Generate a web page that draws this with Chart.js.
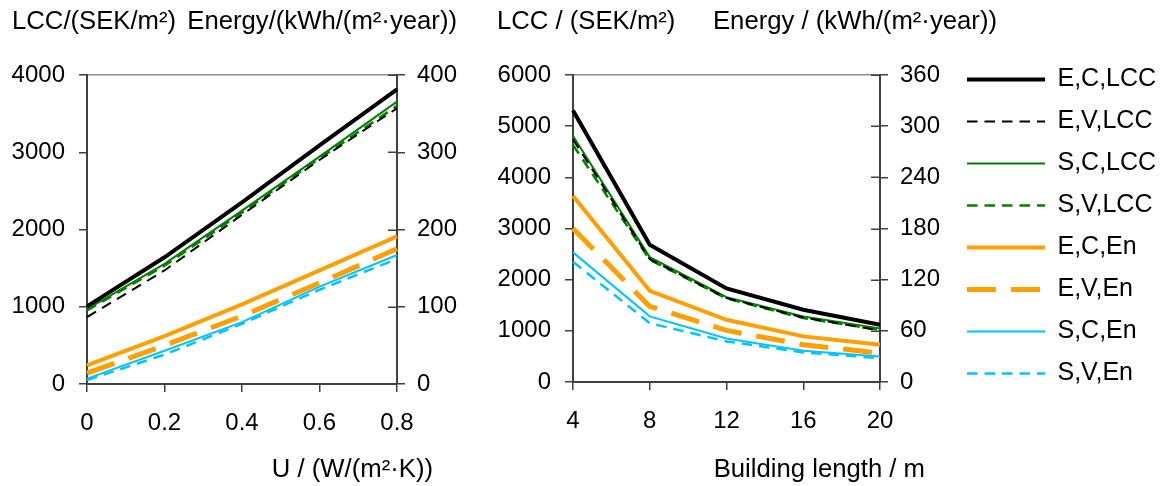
<!DOCTYPE html>
<html><head><meta charset="utf-8">
<script src="https://cdn.jsdelivr.net/npm/chart.js@4.4.1/dist/chart.umd.min.js"></script>
<style>
html,body{margin:0;padding:0;background:#fff;}
#wrap{position:relative;width:1162px;height:486px;overflow:hidden;font-family:"Liberation Sans",Arial,sans-serif;color:#000;}
canvas{position:absolute;top:0;}
.t{position:absolute;font-size:25.7px;line-height:30px;white-space:nowrap;}
</style></head>
<body><div id="wrap">
<canvas id="cU" width="480" height="486" style="left:0px"></canvas>
<canvas id="cL" width="480" height="486" style="left:480px"></canvas>
<canvas id="cLeg" width="212" height="486" style="left:950px"></canvas>
<div class="t" style="left:12px;top:5px">LCC/(SEK/m²)</div>
<div class="t" style="right:705px;top:5px">Energy/(kWh/(m²·year))</div>
<div class="t" style="left:497px;top:5px">LCC / (SEK/m²)</div>
<div class="t" style="right:165px;top:5px">Energy / (kWh/(m²·year))</div>
<div class="t" style="right:729px;top:453px">U / (W/(m²·K))</div>
<div class="t" style="right:237px;top:453px">Building length / m</div>
</div>
<script>
// ---- data ----
const seriesNames = ['E,C,LCC','E,V,LCC','S,C,LCC','S,V,LCC','E,C,En','E,V,En','S,C,En','S,V,En'];
const seriesAxis  = ['y','y','y','y','y2','y2','y2','y2'];

// Left chart: U-value
const uLabels   = ['0','0.2','0.4','0.6','0.8'];
const uEC_LCC   = [1005, 1640, 2350, 3090, 3815];
const uEV_LCC   = [866, 1470, 2190, 2900, 3570];
const uSC_LCC   = [970, 1556, 2245, 2944, 3655];
const uSV_LCC   = [952, 1530, 2220, 2920, 3600];
const uEC_En    = [24, 62, 103, 147, 191];
const uEV_En    = [14, 50, 88, 131, 175];
const uSC_En    = [7, 43, 80, 126, 167];
const uSV_En    = [5, 38, 78, 122, 162];
const uLCCTicks = {min:0, max:4000, step:1000};
const uEnTicks  = {min:0, max:400, step:100};

// Right chart: building length
const lenLabels   = ['4','8','12','16','20'];
const lenEC_LCC   = [5304, 2681, 1829, 1412, 1119];
const lenEV_LCC   = [4744, 2401, 1640, 1262, 1009];
const lenSC_LCC   = [4809, 2440, 1659, 1282, 1048];
const lenSV_LCC   = [4633, 2388, 1633, 1249, 1022];
const lenEC_En    = [218, 107, 73, 53.5, 43.7];
const lenEV_En    = [180, 88.6, 60.5, 43.7, 34];
const lenSC_En    = [152, 77, 51, 36.7, 30];
const lenSV_En    = [141, 69, 47.6, 34.7, 28];
const lenLCCTicks = {min:0, max:6000, step:1000};
const lenEnTicks  = {min:0, max:360, step:60};

// ---- styles ----
const FONT = '"Liberation Sans", Arial, sans-serif';
Chart.defaults.font.family = FONT;
Chart.defaults.color = '#000';
const styles = [
  {color:'#000000', width:4,   dash:[]},
  {color:'#000000', width:2,   dash:[10.5,7]},
  {color:'#008000', width:2,   dash:[]},
  {color:'#008000', width:2.5, dash:[10.5,7]},
  {color:'#FFA000', width:4,   dash:[]},
  {color:'#FFA000', width:5,   dash:[29,15]},
  {color:'#00C4FF', width:2,   dash:[]},
  {color:'#00C4FF', width:2.5, dash:[10.5,7]}
];
const AXIS = '#404040';

function makeDatasets(arrs){
  return arrs.map((d,i)=>({
    label: seriesNames[i], data: d, yAxisID: seriesAxis[i],
    borderColor: styles[i].color, backgroundColor: styles[i].color,
    borderWidth: styles[i].width, borderDash: styles[i].dash,
    pointRadius: 0, pointHoverRadius: 0, tension: 0, fill: false
  }));
}

const innerTicks = {
  id: 'innerTicks',
  beforeDatasetsDraw(chart){
    const s = chart.scales.y2, a = chart.chartArea, ctx = chart.ctx;
    ctx.save(); ctx.strokeStyle = AXIS; ctx.lineWidth = 1.5;
    s.ticks.forEach(t => {
      const y = Math.round(s.getPixelForValue(t.value)) + 0.25;
      ctx.beginPath(); ctx.moveTo(a.right - 9, y); ctx.lineTo(a.right, y); ctx.stroke();
    });
    ctx.restore();
  }
};

const plainNum = v => String(v);

function makeOptions(lt, rt, geo){
  return {
    responsive: false, animation: false, events: [],
    layout: {padding: {top: geo.top, left: 0, right: 0, bottom: 0}},
    plugins: {legend: {display: false}, tooltip: {enabled: false}},
    scales: {
      x: {
        type: 'category', offset: false,
        grid: {drawOnChartArea: false, tickLength: 8, color: AXIS, lineWidth: 1.5},
        border: {color: AXIS, width: 2},
        ticks: {font: {size: 24}, color: '#000', padding: 17, maxRotation: 0, autoSkip: false},
        afterFit: s => { s.height = geo.xH; }
      },
      y: {
        position: 'left', min: lt.min, max: lt.max,
        ticks: {stepSize: lt.step, font: {size: 24}, color: '#000', padding: 14, callback: plainNum},
        grid: {drawOnChartArea: true, tickLength: 8, lineWidth: 1.5, tickColor: AXIS,
               color: c => (c.tick && c.tick.value === lt.max) ? '#8c8c8c' : 'rgba(0,0,0,0)'},
        border: {color: AXIS, width: 2},
        afterFit: s => { s.width = geo.yW; }
      },
      y2: {
        position: 'right', min: rt.min, max: rt.max,
        ticks: {stepSize: rt.step, font: {size: 24}, color: '#000', padding: 12, callback: plainNum},
        grid: {drawOnChartArea: false, tickLength: 8, lineWidth: 1.5, color: AXIS},
        border: {color: AXIS, width: 2},
        afterFit: s => { s.width = geo.y2W; }
      }
    }
  };
}

new Chart(document.getElementById('cU'), {
  type: 'line',
  data: {labels: uLabels, datasets: makeDatasets([uEC_LCC,uEV_LCC,uSC_LCC,uSV_LCC,uEC_En,uEV_En,uSC_En,uSV_En])},
  options: makeOptions(uLCCTicks, uEnTicks, {top: 75, xH: 102, yW: 87, y2W: 83}),
  plugins: [innerTicks]
});

new Chart(document.getElementById('cL'), {
  type: 'line',
  data: {labels: lenLabels, datasets: makeDatasets([lenEC_LCC,lenEV_LCC,lenSC_LCC,lenSV_LCC,lenEC_En,lenEV_En,lenSC_En,lenSV_En])},
  options: makeOptions(lenLCCTicks, lenEnTicks, {top: 75, xH: 104, yW: 93, y2W: 80}),
  plugins: [innerTicks]
});

// Legend (library legend, own canvas)
new Chart(document.getElementById('cLeg'), {
  type: 'line',
  data: {labels: [], datasets: seriesNames.map((n,i)=>({
    label: n, data: [], borderColor: styles[i].color, backgroundColor: styles[i].color,
    borderWidth: styles[i].width, borderDash: styles[i].dash
  }))},
  options: {
    responsive: false, animation: false, events: [],
    layout: {padding: {top: 50, left: 0, right: 0, bottom: 0}},
    scales: {x: {display: false}, y: {display: false}},
    plugins: {
      tooltip: {enabled: false},
      legend: {position: 'left', align: 'start', maxWidth: 212,
        labels: {usePointStyle: true, pointStyle: 'line', pointStyleWidth: 78, padding: 17,
                 color: '#000', font: {size: 25},
                 generateLabels: chart => Chart.defaults.plugins.legend.labels.generateLabels(chart).map((it, i) =>
                   Object.assign(it, {lineDash: styles[i].dash, lineDashOffset: 0,
                                      lineWidth: styles[i].width, strokeStyle: styles[i].color}))}}
    }
  }
});
</script>
</body></html>
